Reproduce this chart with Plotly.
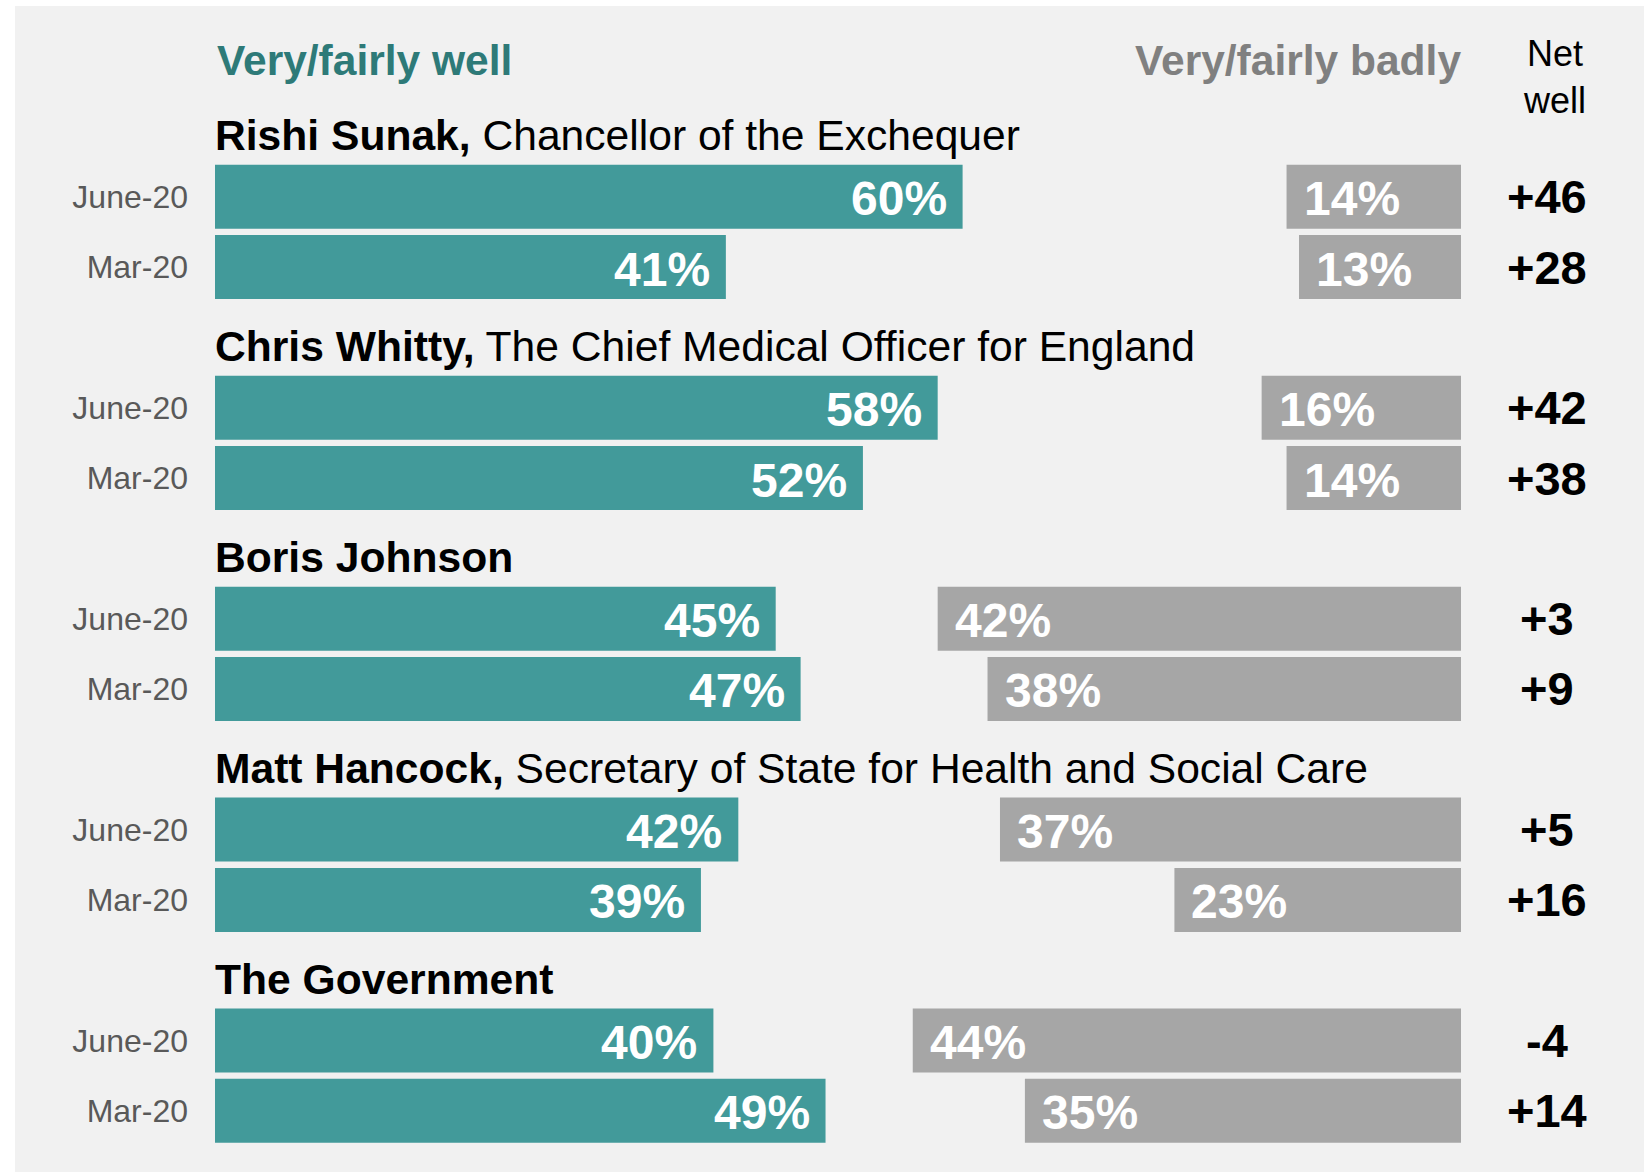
import plotly.graph_objects as go

# ---- data ----
names_bold = ["Rishi Sunak,", "Chris Whitty,", "Boris Johnson", "Matt Hancock,", "The Government"]
roles = ["Chancellor of the Exchequer", "The Chief Medical Officer for England", "",
         "Secretary of State for Health and Social Care", ""]
periods = ["June-20", "Mar-20"]
well_june = [60, 58, 45, 42, 40]
well_mar = [41, 52, 47, 39, 49]
badly_june = [14, 16, 42, 37, 44]
badly_mar = [13, 14, 38, 23, 35]
net_june = ["+46", "+42", "+3", "+5", "-4"]
net_mar = ["+28", "+38", "+9", "+16", "+14"]

TEAL = "#429a9a"
TEAL_DARK = "#2e7a78"
GREY_BAR = "#a6a6a6"
GREY_HEAD = "#808080"
BG = "#f1f1f1"
FONT = "Liberation Sans, Arial, sans-serif"

# category rows, top to bottom: header row, then title / June / Mar per person
cats = ["header"]
bar_rows, bar_ticks, well, badly, net = [], [], [], [], []
for i, name in enumerate(names_bold):
    cats.append(name)
    vals = [(well_june[i], badly_june[i], net_june[i]), (well_mar[i], badly_mar[i], net_mar[i])]
    for p, (w, b, n) in zip(periods, vals):
        cid = name + " " + p
        cats.append(cid)
        bar_rows.append(cid)
        bar_ticks.append(p)
        well.append(w)
        badly.append(b)
        net.append(n)

fig = go.Figure()

# invisible trace so every row (incl. title rows) exists on the axis
fig.add_trace(go.Scatter(x=[0] * len(cats), y=cats, mode="markers",
                         marker=dict(opacity=0), hoverinfo="skip", showlegend=False))

fig.add_trace(go.Bar(
    x=well, y=bar_rows, orientation="h", marker=dict(color=TEAL, line=dict(width=0)),
    hoverinfo="skip", showlegend=False
))
fig.add_trace(go.Bar(
    x=badly, y=bar_rows, orientation="h", xaxis="x2",
    marker=dict(color=GREY_BAR, line=dict(width=0)),
    hoverinfo="skip", showlegend=False
))

ann = []
for row, w, b, n in zip(bar_rows, well, badly, net):
    ann.append(dict(x=w, y=row, xref="x", yref="y", text="<b>%d%%</b>" % w,
                    xanchor="right", xshift=-14, yshift=-2, showarrow=False,
                    font=dict(family=FONT, size=48, color="white")))
    ann.append(dict(x=b, y=row, xref="x2", yref="y", text="<b>%d%%</b>" % b,
                    xanchor="left", xshift=15, yshift=-2, showarrow=False,
                    font=dict(family=FONT, size=48, color="white")))
    ann.append(dict(x=1.069, y=row, xref="paper", yref="y", text="<b>%s</b>" % n,
                    xanchor="center", showarrow=False,
                    font=dict(family=FONT, size=47, color="black")))

for name, role in zip(names_bold, roles):
    txt = "<b>%s</b>" % name + (" " + role if role else "")
    ann.append(dict(x=0, y=name, xref="x", yref="y", text=txt, xanchor="left",
                    xshift=-2, yshift=-9, showarrow=False,
                    font=dict(family=FONT, size=42.6, color="black")))

ann.append(dict(x=0, y="header", xref="x", yref="y", text="<b>Very/fairly well</b>",
                xanchor="left", yshift=-4, showarrow=False,
                font=dict(family=FONT, size=42.5, color=TEAL_DARK)))
ann.append(dict(x=100, y="header", xref="x", yref="y", text="<b>Very/fairly badly</b>",
                xanchor="right", xshift=2, yshift=-4, showarrow=False,
                font=dict(family=FONT, size=42.5, color=GREY_HEAD)))
ann.append(dict(x=1.0754, y="header", xref="paper", yref="y", text="Net<br>well",
                xanchor="center", yshift=-21, showarrow=False,
                font=dict(family=FONT, size=36, color="black")))

fig.update_layout(
    width=1652, height=1172,
    margin=dict(l=215, r=191, t=21, b=26),
    paper_bgcolor="white", plot_bgcolor=BG,
    barmode="overlay", bargap=0.09,
    showlegend=False,
    annotations=ann,
    xaxis=dict(range=[0, 100], visible=False, fixedrange=True),
    xaxis2=dict(range=[100, 0], overlaying="x", visible=False, fixedrange=True),
    yaxis=dict(type="category", categoryorder="array", categoryarray=cats,
               range=[len(cats) - 0.5, -0.5], tickvals=bar_rows, ticktext=bar_ticks,
               showgrid=False, zeroline=False, showline=False, ticks="",
               ticklabelstandoff=26,
               tickfont=dict(family=FONT, size=32, color="#595959"), fixedrange=True),
    shapes=[dict(type="rect", xref="paper", yref="paper", x0=-0.1605, x1=1.1469,
                 y0=-0.0231, y1=1.0133, fillcolor=BG, line=dict(width=0), layer="below")],
)

fig.write_html("out.html", config={"displayModeBar": False},
               post_script="document.body.style.margin='0';")
